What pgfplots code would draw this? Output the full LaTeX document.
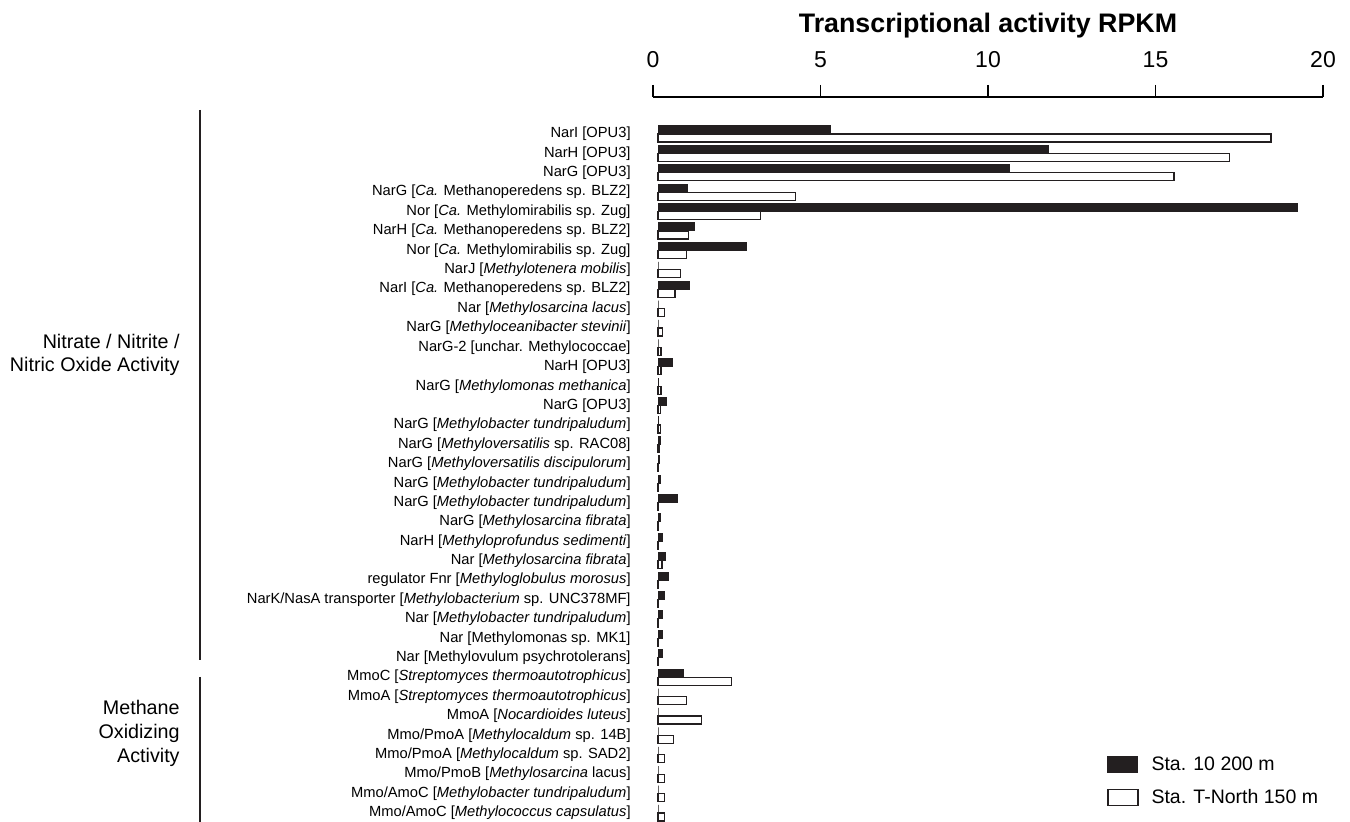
\documentclass[border=0pt]{standalone}
\usepackage{pgfplots}
\pgfplotsset{compat=1.18}
\usepackage{pgfplotstable}
\usepackage{fontspec}
\setmainfont{Liberation Sans}
\definecolor{barblack}{RGB}{35,31,32}

\pgfplotstableread{
row black white
1 5.15 18.30
2 11.65 17.05
3 10.50 15.40
4 0.88 4.10
5 19.10 3.05
6 1.09 0.90
7 2.65 0.85
8 0 0.67
9 0.93 0.51
10 0 0.19
11 0 0.13
12 0 0.09
13 0.43 0.09
14 0.02 0.09
15 0.25 0.07
16 0.02 0.08
17 0.07 0.03
18 0.05 0.02
19 0.06 0.02
20 0.59 0.02
21 0.06 0.02
22 0.14 0.02
23 0.22 0.12
24 0.31 0.02
25 0.19 0.02
26 0.12 0.02
27 0.12 0.02
28 0.12 0.02
29 0.76 2.19
30 0 0.85
31 0 1.31
32 0 0.46
33 0 0.19
34 0 0.19
35 0 0.19
36 0 0.19
}\datatable

\begin{document}
\begin{tikzpicture}
\useasboundingbox (0,0) rectangle (675pt,-411pt);
% top scale axis
\begin{axis}[
  at={(326.5pt,-48.5pt)}, anchor=north west,
  scale only axis, width=335pt, height=20pt,
  xmin=0, xmax=20, ymin=0, ymax=1,
  axis x line*=top, axis y line=none,
  xtick={0,5,10,15,20},
  xtick align=outside, major tick length=6pt,
  tick style={line width=0.6pt, black},
  axis line style={line width=0.6pt},
  xticklabel style={font=\fontsize{11.5}{13}\selectfont, yshift=5pt},
  /pgf/number format/assume math mode=true,
]
\end{axis}
% bar axis
\begin{axis}[
  at={(329pt,-62.15pt)}, anchor=north west,
  scale only axis, width=335pt, height=349.2pt,
  xmin=0, xmax=20, ymin=0.5, ymax=36.5,
  y dir=reverse,
  xbar, bar width=4pt,
  axis line style={draw=none},
  xtick=\empty,
  ytick={1,...,36},
  major tick length=0pt,
  clip=false,
  yticklabels={
    {NarI [OPU3]},
    {NarH [OPU3]},
    {NarG [OPU3]},
    {NarG [\textit{Ca.} Methanoperedens sp. BLZ2]},
    {Nor [\textit{Ca.} Methylomirabilis sp. Zug]},
    {NarH [\textit{Ca.} Methanoperedens sp. BLZ2]},
    {Nor [\textit{Ca.} Methylomirabilis sp. Zug]},
    {NarJ [\textit{Methylotenera mobilis}]},
    {NarI [\textit{Ca.} Methanoperedens sp. BLZ2]},
    {Nar [\textit{Methylosarcina lacus}]},
    {NarG [\textit{Methyloceanibacter stevinii}]},
    {NarG-2 [unchar. Methylococcae]},
    {NarH [OPU3]},
    {NarG [\textit{Methylomonas methanica}]},
    {NarG [OPU3]},
    {NarG [\textit{Methylobacter tundripaludum}]},
    {NarG [\textit{Methyloversatilis} sp. RAC08]},
    {NarG [\textit{Methyloversatilis discipulorum}]},
    {NarG [\textit{Methylobacter tundripaludum}]},
    {NarG [\textit{Methylobacter tundripaludum}]},
    {NarG [\textit{Methylosarcina fibrata}]},
    {NarH [\textit{Methyloprofundus sedimenti}]},
    {Nar [\textit{Methylosarcina fibrata}]},
    {regulator Fnr [\textit{Methyloglobulus morosus}]},
    {NarK/NasA transporter [\textit{Methylobacterium} sp. UNC378MF]},
    {Nar [\textit{Methylobacter tundripaludum}]},
    {Nar [Methylomonas sp. MK1]},
    {Nar [Methylovulum psychrotolerans]},
    {MmoC [\textit{Streptomyces thermoautotrophicus}]},
    {MmoA [\textit{Streptomyces thermoautotrophicus}]},
    {MmoA [\textit{Nocardioides luteus}]},
    {Mmo/PmoA [\textit{Methylocaldum} sp. 14B]},
    {Mmo/PmoA [\textit{Methylocaldum} sp. SAD2]},
    {Mmo/PmoB [\textit{Methylosarcina} lacus]},
    {Mmo/AmoC [\textit{Methylobacter tundripaludum}]},
    {Mmo/AmoC [\textit{Methylococcus capsulatus}]}
  },
  yticklabel style={font=\fontsize{7.35}{8}\selectfont, anchor=east, inner sep=0pt, xshift=-13.5pt},
  legend style={at={(axis description cs:0.670,0.098)}, anchor=north west,
    draw=none, fill=none, font=\fontsize{9.75}{11}\selectfont,
    row sep=6pt, inner sep=0pt, nodes={inner sep=1pt}},
  legend cell align=left,
  legend image code/.code={\draw[#1] (0pt,-4pt) rectangle (15pt,4pt); \path (20.5pt,0pt);},
]
\addplot[fill=barblack, draw=barblack, line width=0.5pt, bar shift=2pt] table[x=black, y=row] {\datatable};
\addplot[fill=white, draw=barblack, line width=0.6pt, bar shift=-2pt] table[x=white, y=row] {\datatable};
\legend{Sta. 10 200 m, Sta. T-North 150 m}
\end{axis}
\node[font=\bfseries\fontsize{13.4}{16}\selectfont] at (494pt,-13pt) {Transcriptional activity RPKM};
\draw[line width=0.6pt, barblack] (100pt,-55pt) -- (100pt,-330pt);
\draw[line width=0.6pt, barblack] (100pt,-338.5pt) -- (100pt,-411pt);
\node[anchor=east, align=right, inner sep=0pt, font=\fontsize{9.85}{11.5}\selectfont] at (90pt,-177.25pt) {Nitrate / Nitrite /\\Nitric Oxide Activity};
\node[anchor=east, align=right, inner sep=0pt, font=\fontsize{9.85}{12}\selectfont] at (90pt,-366.5pt) {Methane\\Oxidizing\\Activity};
\end{tikzpicture}
\end{document}
